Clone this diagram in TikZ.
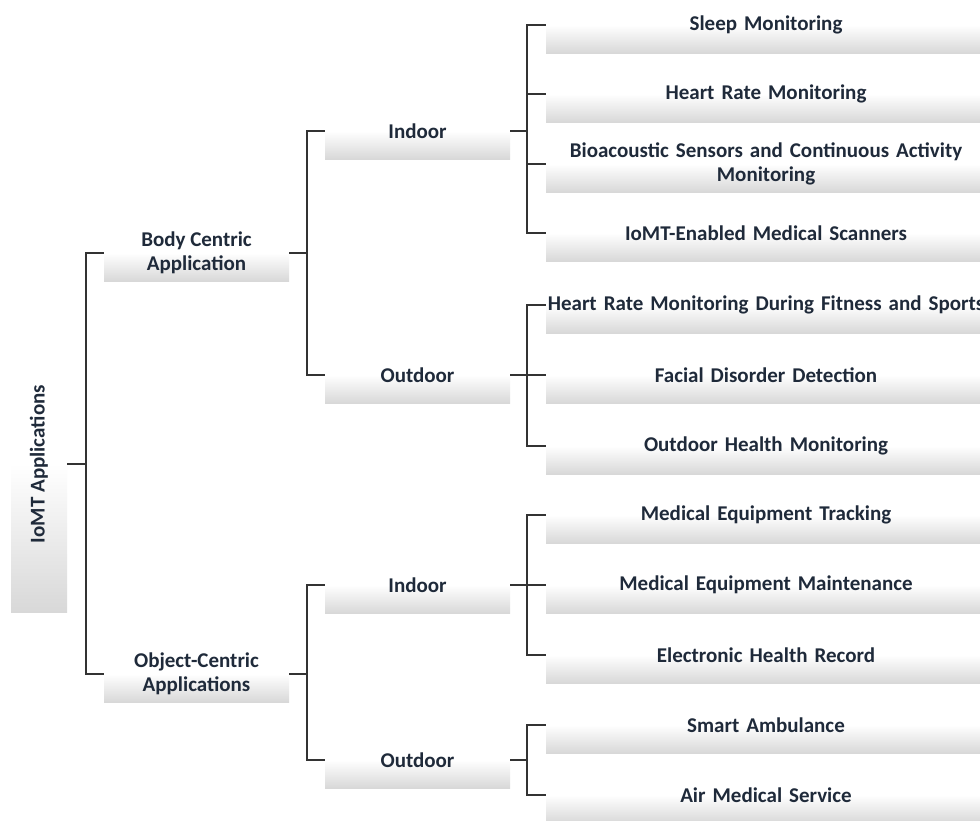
\documentclass[tikz,border=0pt]{standalone}
\usepackage{fontspec}
\setmainfont{Carlito}
\definecolor{txt}{HTML}{1F2A3A}
\definecolor{ln}{HTML}{333333}
\definecolor{boxgray}{HTML}{D8D8D8}
\begin{document}
\begin{tikzpicture}[x=1pt,y=-1pt,
  lbl/.style={text=txt,font=\fontsize{21}{24}\selectfont\bfseries},
  box/.style={top color=white,bottom color=boxgray,middle color=white,
    lbl,align=center,inner sep=0pt,minimum height=56,anchor=center},
  lvlone/.style={box,minimum width=185},
  lvltwo/.style={box,minimum width=185},
  leaf/.style={box,minimum width=440,text width=430},
  conn/.style={draw=ln,line width=1.3pt}]
\clip (0,0) rectangle (980,820);
\fill[white] (0,0) rectangle (980,820);
% root
\node[box,minimum width=56,minimum height=296] (root) at (39,464) {};
\node[rotate=90,lbl] (rootlabel) at (root.center) {IoMT Applications};
% level 1
\node[lvlone] (body) at (196.5,253) {Body Centric\\Application};
\node[lvlone] (obj) at (196.5,674) {Object-Centric\\Applications};
% level 2
\node[lvltwo] (bin) at (417.5,131) {Indoor};
\node[lvltwo] (bout) at (417.5,375) {Outdoor};
\node[lvltwo] (oin) at (417.5,585) {Indoor};
\node[lvltwo] (oout) at (417.5,760) {Outdoor};
% leaves
\node[leaf] (l1) at (766,25) {Sleep Monitoring};
\node[leaf] (l2) at (766,94) {Heart Rate Monitoring};
\node[leaf] (l3) at (766,164) {Bioacoustic Sensors and Continuous Activity\\Monitoring};
\node[leaf] (l4) at (766,233) {IoMT-Enabled Medical Scanners};
\node[leaf] (l5) at (766,305) {\makebox[430pt][c]{Heart Rate Monitoring During Fitness and Sports}};
\node[leaf] (l6) at (766,375) {Facial Disorder Detection};
\node[leaf] (l7) at (766,446) {Outdoor Health Monitoring};
\node[leaf] (l8) at (766,515) {Medical Equipment Tracking};
\node[leaf] (l9) at (766,585) {Medical Equipment Maintenance};
\node[leaf] (l10) at (766,655) {Electronic Health Record};
\node[leaf] (l11) at (766,725) {Smart Ambulance};
\node[leaf] (l12) at (766,795) {Air Medical Service};
% bus coordinates
\coordinate (r0) at (86,464);
\coordinate (b0) at (307,253);
\coordinate (o0) at (307,674);
\coordinate (bi) at (527,131);
\coordinate (bo) at (527,375);
\coordinate (oi) at (527,585);
\coordinate (oo) at (527,760);
% connectors
\draw[conn] (root.east) -- (r0);
\draw[conn] (body.west) -| (r0);
\draw[conn] (obj.west) -| (r0);
\draw[conn] (body.east) -- (b0);
\draw[conn] (bin.west) -| (b0);
\draw[conn] (bout.west) -| (b0);
\draw[conn] (obj.east) -- (o0);
\draw[conn] (oin.west) -| (o0);
\draw[conn] (oout.west) -| (o0);
\draw[conn] (bin.east) -- (bi);
\foreach \n in {l1,l2,l3,l4} \draw[conn] (\n.west) -| (bi);
\draw[conn] (bout.east) -- (bo);
\foreach \n in {l5,l6,l7} \draw[conn] (\n.west) -| (bo);
\draw[conn] (oin.east) -- (oi);
\foreach \n in {l8,l9,l10} \draw[conn] (\n.west) -| (oi);
\draw[conn] (oout.east) -- (oo);
\foreach \n in {l11,l12} \draw[conn] (\n.west) -| (oo);
\end{tikzpicture}
\end{document}
